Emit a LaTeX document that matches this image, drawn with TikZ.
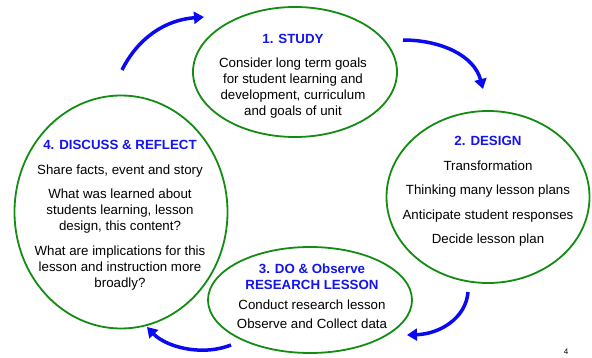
\documentclass[tikz,border=0pt]{standalone}
\usepackage{fontspec}
\setmainfont{Liberation Sans}
\usetikzlibrary{shapes.geometric,arrows.meta}
\definecolor{ringgreen}{RGB}{20,140,20}
\definecolor{titleblue}{RGB}{20,20,235}
\definecolor{arrowblue}{RGB}{10,10,240}
\tikzset{
  ring/.style={draw=ringgreen, line width=1.8pt, ellipse, inner sep=0pt},
  body/.style={align=center, font=\fontsize{13.3}{16}\selectfont, inner sep=0pt},
  cyc/.style={draw=arrowblue, line width=3.5pt, -{Triangle[width=12pt,length=10pt]}}
}
\begin{document}
\begin{tikzpicture}[x=1pt,y=-1pt]
\useasboundingbox (0,0) rectangle (592,358);
\fill[white] (0,0) rectangle (592,358);
% rings
\node[ring, minimum width=204pt, minimum height=130pt] (study) at (295,72) {};
\node[ring, minimum width=203pt, minimum height=172pt] (design) at (488,197) {};
\node[ring, minimum width=213pt, minimum height=233pt] (discuss) at (121,212) {};
\node[ring, minimum width=204pt, minimum height=106pt] (doobs) at (310,300) {};
% texts
\node[body] (t1) at (293,76.5) {\textcolor{titleblue}{\bfseries 1. STUDY}\\[8pt]
Consider long term goals\\for student learning and\\development, curriculum\\and goals of unit};
\node[body] (t2) at (488,191.5) {\textcolor{titleblue}{\bfseries 2. DESIGN}\\[8.5pt]
Transformation\\[8.5pt]Thinking many lesson plans\\[8.5pt]Anticipate student responses\\[8.5pt]Decide lesson plan};
\node[body] (t3) at (312,296.5) {\textcolor{titleblue}{\bfseries 3. DO \& Observe}\\\textcolor{titleblue}{\bfseries RESEARCH LESSON}\\[3.5pt]
Conduct research lesson\\[3.5pt]Observe and Collect data};
\node[body] (t4) at (120,215) {\textcolor{titleblue}{\bfseries 4. DISCUSS \& REFLECT}\\[9pt]
Share facts, event and story\\[8pt]What was learned about\\students learning, lesson\\design, this content?\\[9.5pt]
What are implications for this\\lesson and instruction more\\broadly?};
% arrow endpoints
\coordinate (a1s) at (122,70);
\coordinate (a1e) at (204,17);
\coordinate (a2s) at (403,40);
\coordinate (a2e) at (483,89);
\coordinate (a3s) at (468,292);
\coordinate (a3e) at (407,335);
\coordinate (a4s) at (231,345);
\coordinate (a4e) at (147,327);
\draw[cyc] (a1s) .. controls (138,38) and (165,20) .. (a1e);
\draw[cyc] (a2s) .. controls (440,40) and (474,55) .. (a2e);
\draw[cyc] (a3s) .. controls (466,318) and (440,334) .. (a3e);
\draw[cyc] (a4s) .. controls (200,357) and (165,346) .. (a4e);
\node[font=\fontsize{8}{9}\selectfont, inner sep=0pt] (pg) at (566,352) {4};
\end{tikzpicture}
\end{document}
